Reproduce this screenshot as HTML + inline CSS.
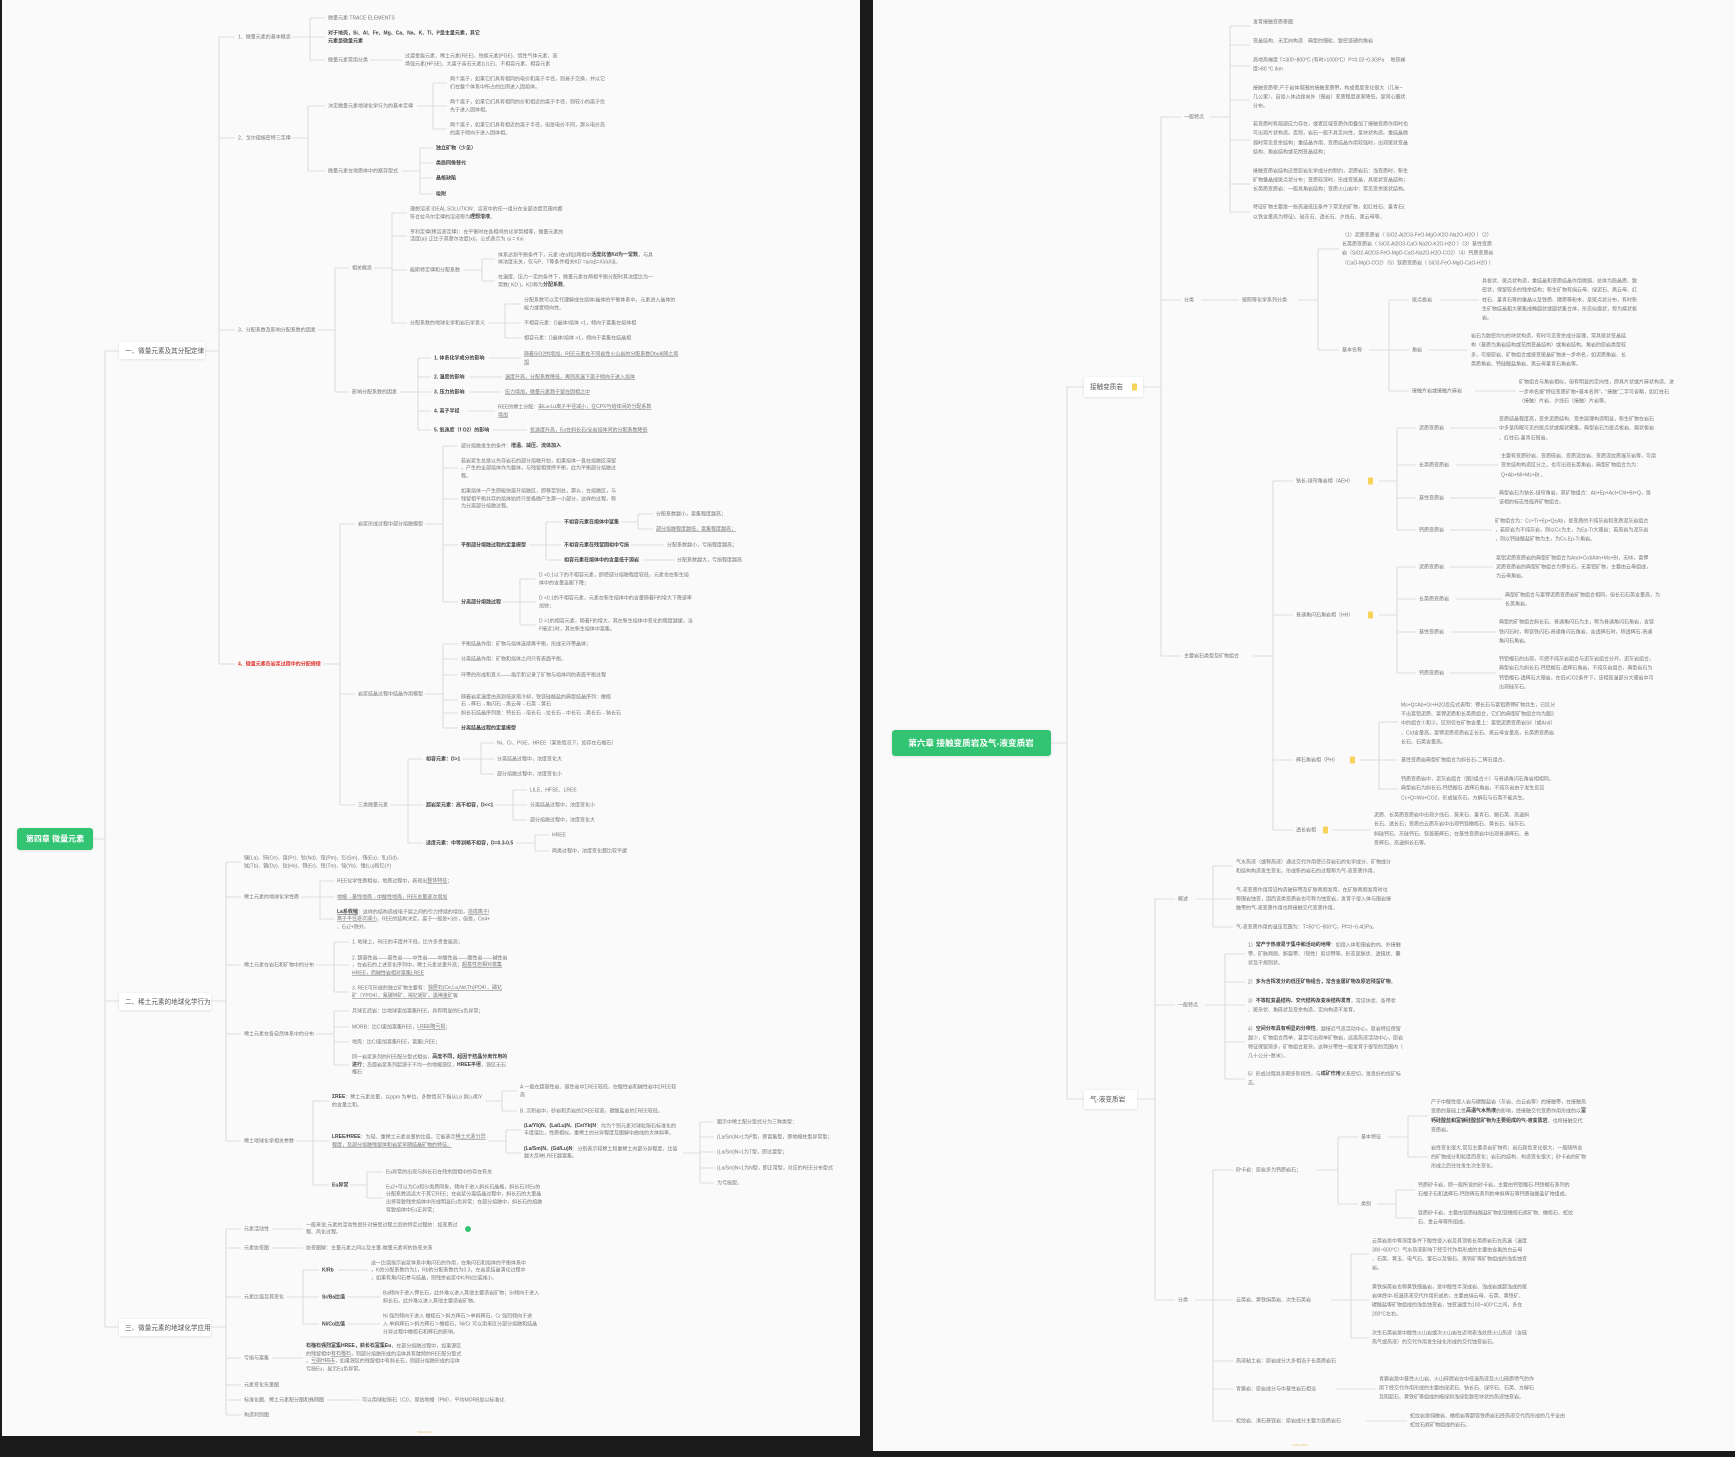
<!DOCTYPE html>
<html><head><meta charset="utf-8">
<style>
html,body{margin:0;padding:0;background:#1b1b1b;}
svg{display:block;}
text{font-family:"Liberation Sans","Noto Sans CJK SC",sans-serif;font-size:5px;fill:#777;dominant-baseline:middle;}
.b{font-weight:bold;fill:#444;}
.r{fill:#e0302a;font-weight:bold;}
.u{text-decoration:underline;}
.l1{font-size:6.6px;fill:#555;}
.rt{font-size:8px;fill:#fff;font-weight:bold;}
path{stroke:#d4d4d4;stroke-width:0.8;fill:none;}
</style></head><body>
<svg width="1735" height="1457" viewBox="0 0 1735 1457" xmlns="http://www.w3.org/2000/svg">
<defs><filter id="sh" x="-20%" y="-40%" width="140%" height="180%"><feDropShadow dx="0" dy="0.6" stdDeviation="1.2" flood-color="#000" flood-opacity="0.12"/></filter></defs>
<rect x="0" y="0" width="1735" height="1457" fill="#1b1b1b"/>
<rect x="2" y="0" width="858" height="1436" fill="#fafafa"/>
<rect x="873" y="0" width="862" height="1451" fill="#fafafa"/>

<!-- ================= LEFT PANEL ================= -->
<path d="M93,839 H105 M105,351 V1327 M105,351 H119 M105,1001 H119 M105,1327 H119"/>
<rect x="17" y="828" width="76" height="22" rx="3" fill="#33c472" filter="url(#sh)"/>
<text x="55" y="839.5" class="rt" text-anchor="middle">第四章 微量元素</text>

<rect x="119" y="342" width="86" height="17" rx="2" fill="#fff" filter="url(#sh)"/>
<text x="125" y="351" class="l1">一、微量元素及其分配定律</text>
<rect x="119" y="993" width="92" height="17" rx="2" fill="#fff" filter="url(#sh)"/>
<text x="125" y="1002" class="l1">二、稀土元素的地球化学行为</text>
<rect x="119" y="1319" width="92" height="17" rx="2" fill="#fff" filter="url(#sh)"/>
<text x="125" y="1328" class="l1">三、微量元素的地球化学应用</text>

<!-- 一 -->
<path d="M205,351 H219 M219,37 V664 M219,37 H235 M219,138 H235 M219,330 H235 M219,664 H235"/>
<text x="238" y="37">1、微量元素的基本概念</text>
<text x="238" y="138">2、戈尔德施密特三定律</text>
<text x="238" y="330">3、分配系数及影响分配系数的因素</text>
<text x="238" y="664" class="r">4、微量元素在岩浆过程中的分配规律</text>

<path d="M292,37 H310 M310,18 V60 M310,18 H325 M310,37 H325 M310,60 H325 M370,60 H402"/>
<text x="328" y="18">微量元素 TRACE ELEMENTS</text>
<text x="328" y="33" class="b">对于地壳，Si、Al、Fe、Mg、Ca、Na、K、Ti、P是主量元素，其它</text>
<text x="328" y="41" class="b">元素是微量元素</text>
<text x="328" y="60">微量元素常用分类</text>
<text x="405" y="56">过渡金属元素、稀土元素(REE)、铂族元素(PGE)、惰性气体元素、高</text>
<text x="405" y="64">场强元素(HFSE)、大离子亲石元素(LILE)、不相容元素、相容元素</text>

<path d="M292,138 H308 M308,106 V171 M308,106 H325 M308,171 H325"/>
<text x="328" y="106">决定微量元素地球化学行为的基本定律</text>
<text x="328" y="171">微量元素在地质体中的赋存型式</text>
<path d="M417,106 H433 M433,83 V129 M433,83 H447 M433,106 H447 M433,129 H447"/>
<text x="450" y="79">两个离子，如果它们具有相同的电价和离子半径，则易于交换，并以它</text>
<text x="450" y="87">们在整个体系中所占的比例进入固熔体。</text>
<text x="450" y="102">两个离子，如果它们具有相同的价和相近的离子半径，则较小的离子优</text>
<text x="450" y="110">先于进入固体相。</text>
<text x="450" y="125">两个离子，如果它们具有相近的离子半径，但是电价不同，那么电价高</text>
<text x="450" y="133">的离子倾向于进入固体相。</text>
<path d="M402,171 H420 M420,148 V194 M420,148 H433 M420,163 H433 M420,178 H433 M420,194 H433"/>
<text x="436" y="148" class="b">独立矿物（少见）</text>
<text x="436" y="163" class="b">类质同像替代</text>
<text x="436" y="178" class="b">晶格缺陷</text>
<text x="436" y="194" class="b">吸附</text>

<path d="M318,330 H335 M335,268 V392 M335,268 H349 M335,392 H349"/>
<text x="352" y="268">相关概念</text>
<text x="352" y="392">影响分配系数的因素</text>
<path d="M374,268 H392 M392,213 V323 M392,213 H407 M392,236 H407 M392,270 H407 M392,323 H407"/>
<text x="410" y="209">理想溶液 IDEAL SOLUTION：溶液中的任一组分在全部浓度范围内都</text>
<text x="410" y="217">符合拉乌尔定律的溶液称为<tspan class="b">理想溶液</tspan>。</text>
<text x="410" y="232">亨利定律(稀溶液定律)：在平衡时在各相间的化学势相等，微量元素的</text>
<text x="410" y="239">活度(ai) 正比于其摩尔浓度(xi)，公式表示为 ai = Kxi</text>
<text x="410" y="270">能斯特定律和分配系数</text>
<text x="410" y="323">分配系数的地球化学和岩石学意义</text>
<path d="M464,270 H482 M482,259 V281 M482,259 H495 M482,281 H495"/>
<text x="498" y="255">体系达到平衡条件下，元素 i在α和β两相中<tspan class="b">活度比值Kd为一常数</tspan>，与具</text>
<text x="498" y="262">体浓度无关，仅与P、T等条件相关KD =ai/aβ=Xi/aXiβ。</text>
<text x="498" y="277">在温度、压力一定的条件下，微量元素在两相平衡分配时其浓度比为一</text>
<text x="498" y="285">常数( KD )，KD称为<tspan class="b">分配系数</tspan>。</text>
<path d="M488,323 H505 M505,304 V338 M505,304 H521 M505,323 H521 M505,338 H521"/>
<text x="524" y="300">分配系数可以定代理解成在熔体/晶体的平衡体系中，元素进入晶体的</text>
<text x="524" y="308">能力或者倾向性。</text>
<text x="524" y="323">不相容元素：D晶体/熔体 &lt;1，倾向于富集在熔体相</text>
<text x="524" y="338">相容元素：D晶体/熔体 &gt;1，倾向于富集在结晶相</text>
<path d="M400,392 H418 M418,358 V430 M418,358 H431 M418,377 H431 M418,392 H431 M418,411 H431 M418,430 H431"/>
<text x="434" y="358" class="b">1. 体系化学成分的影响</text>
<text x="434" y="377" class="b">2. 温度的影响</text>
<text x="434" y="392" class="b">3. 压力的影响</text>
<text x="434" y="411" class="b">4. 离子半径</text>
<text x="434" y="430" class="b">5. 氧逸度（f O2）的影响</text>
<path d="M489,358 H521 M469,377 H502 M469,392 H502 M468,411 H495 M493,430 H527"/>
<text x="524" y="354" class="u">随着SiO2的增加，REE元素在不同岩性火山岩的分配系数Dbulk随之增</text>
<text x="524" y="362" class="u">加</text>
<text x="505" y="377" class="u">温度升高，分配系数降低，再则高温下离子倾向于进入熔体</text>
<text x="505" y="392" class="u">压力增加，微量元素趋于留在固相之中</text>
<text x="498" y="407">REE的稀土分配：<tspan class="u">由La-Lu离子半径减小，在CPX与熔体间的分配系数</tspan></text>
<text x="498" y="415" class="u">增加</text>
<text x="530" y="430" class="u">氧逸度升高，Eu在斜长石/全岩熔体间的分配系数降低</text>

<!-- 4 -->
<path d="M323,664 H340 M340,524 V805 M340,524 H355 M340,694 H355 M340,805 H355"/>
<text x="358" y="524">岩浆形成过程中部分熔融模型</text>
<text x="358" y="694">岩浆结晶过程中结晶作用模型</text>
<text x="358" y="805">三类微量元素</text>
<path d="M425,524 H443 M443,446 V602 M443,446 H458 M443,468 H458 M443,499 H458 M443,545 H458 M443,602 H458"/>
<text x="461" y="446">部分熔融发生的条件：<tspan class="b">增温、减压、流体加入</tspan></text>
<text x="461" y="461">若岩浆生总是以先存岩石的部分熔融开始，如果熔体一直在熔融区滞留</text>
<text x="461" y="468">，产生的全部熔体作为整体，与残留相保持平衡，此为平衡部分熔融过</text>
<text x="461" y="476">程。</text>
<text x="461" y="491">如果熔体一产生即能快离开熔融区，即移至别处，那么，在熔融区，与</text>
<text x="461" y="499">残留相平衡共存的熔体始终只是极微产生那一小部分，这样的过程，称</text>
<text x="461" y="506">为分离部分熔融过程。</text>
<text x="461" y="545" class="b">平衡部分熔融过程的定量模型</text>
<text x="461" y="602" class="b">分离部分熔融过程</text>
<path d="M529,545 H546 M546,522 V560 M546,522 H561 M546,545 H561 M546,560 H561"/>
<text x="564" y="522" class="b">不相容元素在熔体中富集</text>
<text x="564" y="545" class="b">不相容元素在残留固相中亏损</text>
<text x="564" y="560" class="b">相容元素在熔体中的含量低于源岩</text>
<path d="M621,522 H638 M638,514 V529 M638,514 H653 M638,529 H653 M631,545 H664 M642,560 H674"/>
<text x="656" y="514">分配系数越小，富集程度越高；</text>
<text x="656" y="529" class="u">部分熔融程度越低，富集程度越高；</text>
<text x="667" y="545">分配系数越小，亏损程度越高；</text>
<text x="677" y="560">分配系数越大，亏损程度越高</text>
<path d="M503,602 H520 M520,579 V625 M520,579 H536 M520,602 H536 M520,625 H536"/>
<text x="539" y="575">D &lt;0.1以下的不相容元素，即使部分熔融程度较低，元素也在新生熔</text>
<text x="539" y="583">体中的含量急剧下降；</text>
<text x="539" y="598">D &lt;0.1的不相容元素，元素在新生熔体中的含量随着F的增大下降速率</text>
<text x="539" y="606">加快；</text>
<text x="539" y="621">D &gt;1的相容元素，随着F的增大，其在新生熔体中变化的程度越缓，当</text>
<text x="539" y="629">F接近1时，其在新生熔体中富集。</text>
<path d="M425,694 H443 M443,644 V728 M443,644 H458 M443,659 H458 M443,675 H458 M443,700 H458 M443,713 H458 M443,728 H458"/>
<text x="461" y="644">平衡结晶作用：矿物与熔体连续再平衡，形成无环带晶体；</text>
<text x="461" y="659">分离结晶作用：矿物和熔体之间只有表面平衡。</text>
<text x="461" y="675">环带的形成和意义——指示和记录了矿物与熔体间的表面平衡过程</text>
<text x="461" y="697">随着岩浆温度由高到低逐渐冷却，铁镁硅酸盐的典型结晶序列：橄榄</text>
<text x="461" y="704">石→辉石→角闪石→黑云母→石英→黄石</text>
<text x="461" y="713">斜长石结晶序列是：钙长石→倍长石→拉长石→中长石→奥长石→钠长石</text>
<text x="461" y="728" class="b">分离结晶过程的定量模型</text>
<path d="M390,805 H408 M408,759 V843 M408,759 H423 M408,805 H423 M408,843 H423"/>
<text x="426" y="759" class="b">相容元素：D&gt;1</text>
<text x="426" y="805" class="b">超岩浆元素：高不相容，D&lt;&lt;1</text>
<text x="426" y="843" class="b">适度元素：中等到略不相容，D=0.3-0.5</text>
<path d="M462,759 H481 M481,743 V774 M481,743 H494 M481,759 H494 M481,774 H494"/>
<text x="497" y="743">Ni、Cr、PGE、HREE（某些情况下，如存在石榴石）</text>
<text x="497" y="759">分离结晶过程中，浓度变化大</text>
<text x="497" y="774">部分熔融过程中，浓度变化小</text>
<path d="M495,805 H513 M513,790 V820 M513,790 H527 M513,805 H527 M513,820 H527"/>
<text x="530" y="790">LILE、HFSE、LREE</text>
<text x="530" y="805">分离结晶过程中，浓度变化小</text>
<text x="530" y="820">部分熔融过程中，浓度变化大</text>
<path d="M516,843 H535 M535,835 V851 M535,835 H549 M535,851 H549"/>
<text x="552" y="835">HREE</text>
<text x="552" y="851">两类过程中，浓度变化都比较平缓</text>

<!-- 二 -->
<path d="M211,1001 H226 M226,862 V1141 M226,862 H241 M226,897 H241 M226,965 H241 M226,1034 H241 M226,1141 H241"/>
<text x="244" y="858">镧(La)、铈(Ce)、镨(Pr)、钕(Nd)、钷(Pm)、钐(Sm)、铕(Eu)、钆(Gd)、</text>
<text x="244" y="866">铽(Tb)、镝(Dy)、钬(Ho)、铒(Er)、铥(Tm)、镱(Yb)、镥(Lu)和钇(Y)</text>
<text x="244" y="897">稀土元素的地球化学性质</text>
<text x="244" y="965">稀土元素在岩石和矿物中的分布</text>
<text x="244" y="1034">稀土元素在各自然体系中的分布</text>
<text x="244" y="1141">稀土地球化学相关参数</text>
<path d="M301,897 H320 M320,881 V919 M320,881 H334 M320,897 H334 M320,919 H334"/>
<text x="337" y="881">REE化学性质相似，地质过程中，表现出<tspan class="u">整体特征</tspan>；</text>
<text x="337" y="897" class="u">地幔→基性地壳→中酸性地壳，REE总量逐次增加</text>
<text x="337" y="912"><tspan class="b u">La系收缩</tspan>：这样的结构造成电子层之间的引力持续的增加，<tspan class="u">造成离子/</tspan></text>
<text x="337" y="919"><tspan class="u">离子半径逐次减小</tspan>。REE的结构决定，离子一般是+3价，但是，Ce4+</text>
<text x="337" y="927">、Eu2+除外。</text>
<path d="M316,965 H334 M334,942 V992 M334,942 H349 M334,965 H349 M334,992 H349"/>
<text x="352" y="942">1. 地球上，REE的丰度并不低，比许多贵金属高；</text>
<text x="352" y="958">2. 超基性岩——基性岩——中性岩——中酸性岩——酸性岩——碱性岩</text>
<text x="352" y="965">，在岩石的上述变化序列中，稀土元素总量升高；<tspan class="u">超基性岩相对富集</tspan></text>
<text x="352" y="973" class="u">HREE，而碱性岩相对富集LREE</text>
<text x="352" y="988">3. REE可形成的独立矿物主要有：<tspan class="u">独居石(Ce,La,Nd,Th)PO4）、磷钇</tspan></text>
<text x="352" y="996"><tspan class="u">矿（YPO4）、氟碳铈矿、褐钇铌矿、黑稀金矿</tspan>等</text>
<path d="M316,1034 H334 M334,1011 V1065 M334,1011 H349 M334,1027 H349 M334,1042 H349 M334,1065 H349"/>
<text x="352" y="1011">月球玄武岩：比地球更加富集REE，具有明显的Eu负异常；</text>
<text x="352" y="1027">MORB：比CI更加富集REE，<tspan class="u">LREE略亏损</tspan>；</text>
<text x="352" y="1042">地壳：比CI更加富集REE，富集LREE；</text>
<text x="352" y="1057">同一岩浆系列的REE配分型式相似，<tspan class="b">高度不同，起因于结晶分离作用的</tspan></text>
<text x="352" y="1065"><tspan class="b">进行</tspan>；岛弧岩浆系列起源于不均一的地幔源区，<tspan class="b">HREE平坦</tspan>，源区无石</text>
<text x="352" y="1072">榴石</text>
<path d="M296,1141 H313 M313,1101 V1185 M313,1101 H329 M313,1141 H329 M313,1185 H329"/>
<text x="332" y="1097"><tspan class="b">ΣREE</tspan>：稀土元素总量，以ppm 为单位，多数情况下指从La 到Lu和Y</text>
<text x="332" y="1105">的含量之和。</text>
<text x="332" y="1137"><tspan class="b">LREE/HREE</tspan>：为轻、重稀土元素总量的比值，它能表示<tspan class="u">稀土元素分异</tspan></text>
<text x="332" y="1145" class="u">程度，及部分熔融残留体和岩浆早期结晶矿物的特征。</text>
<text x="332" y="1185" class="b">Eu异常</text>
<path d="M485,1101 H502 M502,1091 V1111 M502,1091 H517 M502,1111 H517"/>
<text x="520" y="1087">A 一般在超基性岩、基性岩中ΣREE较低，在酸性岩和碱性岩中ΣREE较</text>
<text x="520" y="1095">高</text>
<text x="520" y="1111">B. 沉积岩中，砂岩和页岩的ΣREE较高，碳酸盐岩的ΣREE较低。</text>
<path d="M488,1141 H506 M506,1130 V1153 M506,1130 H521 M506,1153 H521"/>
<text x="524" y="1126"><tspan class="b">(La/Yb)N、(La/Lu)N、(Ce/Yb)N</tspan>：均为个别元素对球粒陨石标准化的</text>
<text x="524" y="1133">丰度值比，性质相似，重稀土的分异程度及图解中曲线的大体斜率。</text>
<text x="524" y="1149"><tspan class="b">(La/Sm)N、(Gd/Lu)N</tspan>：分别表示轻稀土和重稀土内部分异程度，比值</text>
<text x="524" y="1156">越大反映LREE越富集。</text>
<path d="M683,1153 H700 M700,1122 V1183 M700,1122 H714 M700,1137 H714 M700,1152 H714 M700,1168 H714 M700,1183 H714"/>
<text x="717" y="1122">图示中稀土配分型式分为三种类型：</text>
<text x="717" y="1137">(La/Sm)N&gt;1为P型，即富集型，即地幔柱型异常型；</text>
<text x="717" y="1152">(La/Sm)N≈1为T型，即过渡型；</text>
<text x="717" y="1168">(La/Sm)N&lt;1为N型，即正常型，对应的REE分布型式</text>
<text x="717" y="1183">为亏损型。</text>
<path d="M350,1185 H367 M367,1172 V1198 M367,1172 H383 M367,1198 H383"/>
<text x="386" y="1172">Eu异常的出现与斜长石在残余固相中的存在有关</text>
<text x="386" y="1187">Eu2+可以为Ca和Sr类质同象，倾向于进入斜长石晶格，斜长石对Eu的</text>
<text x="386" y="1194">分配系数远远大于其它REE；在岩浆分离结晶过程中，斜长石的大量晶</text>
<text x="386" y="1202">出将导致残余熔体中形成明显Eu负异常；在部分熔融中，斜长石的熔融</text>
<text x="386" y="1210">导致熔体中Eu正异常；</text>

<!-- 三 -->
<path d="M211,1327 H226 M226,1229 V1415 M226,1229 H241 M226,1248 H241 M226,1297 H241 M226,1358 H241 M226,1385 H241 M226,1400 H241 M226,1415 H241"/>
<text x="244" y="1229">元素活动性</text>
<text x="244" y="1248">元素协变图</text>
<text x="244" y="1297">元素比值及其变化</text>
<text x="244" y="1358">亏损与富集</text>
<text x="244" y="1385">元素变化矢量图</text>
<text x="244" y="1400">标准化图、稀土元素配分图和蛛网图</text>
<text x="244" y="1415">构造判别图</text>
<path d="M272,1229 H303 M272,1248 H303 M272,1358 H303 M327,1400 H359"/>
<text x="306" y="1225">一般来说,元素的活动性是针对接受过程之后的特定过程的：如变质过</text>
<text x="306" y="1232">程、风化过程。</text>
<circle cx="468" cy="1229" r="3" fill="#33c472"/>
<text x="306" y="1248">协变图解：主量元素之间以及主量-微量元素间的协变关系</text>
<path d="M287,1297 H303 M303,1270 V1324 M303,1270 H319 M303,1297 H319 M303,1324 H319"/>
<text x="322" y="1270" class="b">K/Rb</text>
<text x="322" y="1297" class="b">Sr/Ba比值</text>
<text x="322" y="1324" class="b">Ni/Co比值</text>
<path d="M338,1270 H368 M348,1297 H380 M348,1324 H380"/>
<text x="371" y="1263">这一比值指示岩浆体系中角闪石的作用，在角闪石和熔体的平衡体系中</text>
<text x="371" y="1270">，K的分配系数约为1，Rb的分配系数约为0.3，在岩浆结晶演化过程中</text>
<text x="371" y="1278">，如果有角闪石参与结晶，则残余岩浆中K/Rb比值减小。</text>
<text x="383" y="1293">Ba倾向于进入钾长石，此外难以进入其他主要造岩矿物；Sr倾向于进入</text>
<text x="383" y="1301">斜长石，此外难以进入其他主要造岩矿物。</text>
<text x="383" y="1316">Ni 强烈倾向于进入 橄榄石＞斜方辉石＞单斜辉石，Cr 强烈倾向于进</text>
<text x="383" y="1324">入 单斜辉石＞斜方辉石＞橄榄石，Ni/Cr 可以用来区分部分熔融和结晶</text>
<text x="383" y="1332">分异过程中橄榄石和辉石的影响。</text>
<text x="306" y="1346"><tspan class="b">石榴石强烈富集HREE，斜长石富集Eu</tspan>，在部分熔融过程中，如果源区</text>
<text x="306" y="1354">的残留相中<tspan class="u">有石榴石</tspan>，则部分熔融形成的溶体具有陡倾的REE配分型式</text>
<text x="306" y="1361">，<tspan class="u">亏损HREE</tspan>，如果源区的残留相中有斜长石，则部分熔融形成的溶体</text>
<text x="306" y="1369">亏损Eu，显示Eu负异常。</text>
<text x="362" y="1400">可以用球粒陨石（CI）、原始地幔（PM）、平均MORB加以标准化</text>
<text x="425" y="1432" style="font-size:3px;fill:#e3c46a" text-anchor="middle">XMind ZEN</text>

<!-- ================= RIGHT PANEL ================= -->
<path d="M1051,743 H1067 M1067,387 V1099 M1067,387 H1084 M1067,1099 H1084"/>
<rect x="892" y="730" width="159" height="26" rx="3" fill="#33c472" filter="url(#sh)"/>
<text x="971" y="743.5" class="rt" text-anchor="middle" style="font-size:8.6px">第六章 接触变质岩及气-液变质岩</text>
<rect x="1084" y="377" width="59" height="20" rx="2" fill="#fff" filter="url(#sh)"/>
<text x="1090" y="387" class="l1">接触变质岩</text>
<rect x="1132" y="383.5" width="5" height="7" rx="1" fill="#f7d35a"/>
<rect x="1084" y="1090" width="53" height="19" rx="2" fill="#fff" filter="url(#sh)"/>
<text x="1090" y="1099.5" class="l1">气-液变质岩</text>

<!-- 接触变质岩 -->
<path d="M1143,387 H1161 M1161,117 V656 M1161,117 H1181 M1161,300 H1181 M1161,656 H1181"/>
<text x="1184" y="117">一般特点</text>
<text x="1184" y="300">分类</text>
<text x="1184" y="656">主要岩石类型及矿物组合</text>
<path d="M1210,117 H1230 M1230,26 V212 M1230,26 H1250 M1230,45 H1250 M1230,66 H1250 M1230,100 H1250 M1230,140 H1250 M1230,184 H1250 M1230,212 H1250"/>
<text x="1253" y="22">发育接触变质晕圈</text>
<text x="1253" y="41">变晶结构、无定向构造　典型的细粒、致密坚硬的角岩</text>
<text x="1253" y="60">高地热梯度 T=300~800°C (有时&gt;1000°C）P=0.02~0.3GPa　 地热梯</text>
<text x="1253" y="69">度&gt;80 °C /km</text>
<text x="1253" y="88">接触变质晕:产于岩体周围的接触变质带，构成宽度变化很大（几米~</text>
<text x="1253" y="97">几公里），自侵入体边缘向外（围岩）变质程度逐渐降低，呈同心圈状</text>
<text x="1253" y="106">分布。</text>
<text x="1253" y="124">若变质时有局部应力存在，或者区域变质作用叠加了接触变质作用时也</text>
<text x="1253" y="133">可出现片状构造。否则，岩石一般不具定向性，呈块状构造。重结晶微</text>
<text x="1253" y="143">弱时常见变余结构；重结晶作用、变质结晶作用较强时，出现斑状变晶</text>
<text x="1253" y="152">结构、角岩结构或花岗变晶结构；</text>
<text x="1253" y="171">接触变质岩结构还受原岩化学成分的制约，泥质岩石：浅变质时，新生</text>
<text x="1253" y="180">矿物雏晶成斑点状分布；变质较深时，形成变斑晶，具斑状变晶结构；</text>
<text x="1253" y="189">长英质变质岩：一般具角岩结构；变质火山岩中：常见变余斑状结构。</text>
<text x="1253" y="207">特征矿物主要是一些高温低压条件下常见的矿物，如红柱石、堇青石(</text>
<text x="1253" y="217">以铁含量高为特征)、硅灰石、透长石、夕线石、黑云母等。</text>

<path d="M1201,300 H1239 M1298,300 H1318 M1318,249 V350 M1318,249 H1339 M1318,350 H1339"/>
<text x="1242" y="300">按照等化学系列分类</text>
<text x="1342" y="235">（1）泥质变质岩（ SiO2-Al2O3-FeO-MgO-K2O-Na2O-H2O ）（2）</text>
<text x="1342" y="244">长英质变质岩（ SiO2-Al2O3-CaO-Na2O-K2O-H2O ）（3）基性变质</text>
<text x="1342" y="253">岩（SiO2-Al2O3-FeO-MgO-CaO-Na2O-H2O-CO2）（4）钙质变质岩</text>
<text x="1342" y="263">（CaO-MgO-CO2）（5）镁质变质岩（ SiO2-FeO-MgO-CaO-H2O ）</text>
<text x="1342" y="350">基本名称</text>
<path d="M1369,350 H1389 M1389,300 V391 M1389,300 H1409 M1389,350 H1409 M1389,391 H1409"/>
<text x="1412" y="300">斑点板岩</text>
<text x="1412" y="350">角岩</text>
<text x="1412" y="391">接触片岩或接触片麻岩</text>
<path d="M1440,300 H1479 M1428,350 H1468 M1475,391 H1516"/>
<text x="1482" y="281">具板状、斑点状构造，重结晶和变质结晶作用微弱，总体为隐晶质、致</text>
<text x="1482" y="290">密状，保留较多的残余结构；新生矿物有绢云母、绿泥石、黑云母、红</text>
<text x="1482" y="300">柱石、堇青石等的雏晶以及铁质、碳质等粉末，呈斑点状分布，有时新</text>
<text x="1482" y="309">生矿物结晶粗大聚集成椭圆状或圆状集合体，形态似瘤状，称为瘤状板</text>
<text x="1482" y="318">岩。</text>
<text x="1471" y="336">岩石为致密均匀的块状构造，有时可见变余成分层理，常具斑状变晶结</text>
<text x="1471" y="345">构（基质为角岩结构或花岗变晶结构）或角岩结构。角岩的原岩类型较</text>
<text x="1471" y="355">多，可按原岩、矿物组合或按变斑晶矿物进一步命名，如泥质角岩、长</text>
<text x="1471" y="364">英质角岩、钙硅酸盐角岩、黑云母堇青石角岩等。</text>
<text x="1519" y="382">矿物组合与角岩相似，但有明显的定向性，即具片状或片麻状构造。进</text>
<text x="1519" y="392">一步命名按"特征变质矿物+基本名称"，"接触"二字可省略，如红柱石</text>
<text x="1519" y="401">（接触）片岩、夕线石（接触）片岩等。</text>

<path d="M1253,656 H1273 M1273,481 V830 M1273,481 H1293 M1273,615 H1293 M1273,760 H1293 M1273,830 H1293"/>
<text x="1296" y="481">钠长-绿帘角岩相（AEH）</text>
<rect x="1368" y="477.5" width="5" height="7" rx="1" fill="#f7d35a"/>
<text x="1296" y="615">普通角闪石角岩相（HH）</text>
<rect x="1368" y="611.5" width="5" height="7" rx="1" fill="#f7d35a"/>
<text x="1296" y="760">辉石角岩相（PH）</text>
<rect x="1350" y="756.5" width="5" height="7" rx="1" fill="#f7d35a"/>
<text x="1296" y="830">透长岩相</text>
<rect x="1323" y="826.5" width="5" height="7" rx="1" fill="#f7d35a"/>

<path d="M1379,481 H1397 M1397,428 V530 M1397,428 H1416 M1397,465 H1416 M1397,498 H1416 M1397,530 H1416"/>
<text x="1419" y="428">泥质变质岩</text>
<text x="1419" y="465">长英质变质岩</text>
<text x="1419" y="498">基性变质岩</text>
<text x="1419" y="530">钙质变质岩</text>
<path d="M1450,428 H1496 M1456,465 H1498 M1450,498 H1496 M1450,530 H1492"/>
<text x="1499" y="419">变质结晶程度高，变余泥质结构、变余层理构造明显，新生矿物在岩石</text>
<text x="1499" y="428">中多呈肉眼可见的斑点状或瘤状聚集，典型岩石为斑点板岩、瘤状板岩</text>
<text x="1499" y="438">、红柱石-堇青石斑岩。</text>
<text x="1501" y="456">主要有变质砂岩、变质砾岩、变质流纹岩、变质流纹质凝灰岩等，可用</text>
<text x="1501" y="465">变余结构构造区分之，也可出现长英角岩，典型矿物组合为为：</text>
<text x="1501" y="475">Q+Ab+Mi+Ms+Bt 。</text>
<text x="1499" y="493">典型岩石为钠长-绿帘角岩，其矿物组合：Ab+Ep+Act+Chl+Bt+Q，是</text>
<text x="1499" y="502">该相的标志性临界矿物组合。</text>
<text x="1495" y="521">矿物组合为：Cc+Tr+Ep+Q±Ab，是变质的不纯灰岩和变质泥灰岩组合</text>
<text x="1495" y="530">，若原岩为不纯灰岩，则以Cc为主，为Ep-Tr大理岩；若原岩为泥灰岩</text>
<text x="1495" y="539">，则以钙硅酸盐矿物为主，为Cc-Ep-Tr角岩。</text>

<path d="M1379,615 H1397 M1397,567 V673 M1397,567 H1416 M1397,599 H1416 M1397,632 H1416 M1397,673 H1416"/>
<text x="1419" y="567">泥质变质岩</text>
<text x="1419" y="599">长英质变质岩</text>
<text x="1419" y="632">基性变质岩</text>
<text x="1419" y="673">钙质变质岩</text>
<path d="M1450,567 H1493 M1456,599 H1502 M1450,632 H1496 M1450,673 H1496"/>
<text x="1496" y="558">富铝泥质变质岩的典型矿物组合为And+Crd/Alm+Ms+Bt，无Mi，富钾</text>
<text x="1496" y="567">泥质变质岩的典型矿物组合为钾长石，无富铝矿物，主要由云母组成，</text>
<text x="1496" y="576">为云母角岩。</text>
<text x="1505" y="595">典型矿物组合与富钾泥质变质岩矿物组合相同，但长石石英含量高，为</text>
<text x="1505" y="604">长英角岩。</text>
<text x="1499" y="622">典型的矿物组合斜长石、普通角闪石为主，称为普通角闪石角岩，含镁</text>
<text x="1499" y="632">铁闪石时，称镁铁闪石-普通角闪石角岩，含透辉石时，称透辉石-普通</text>
<text x="1499" y="641">角闪石角岩。</text>
<text x="1499" y="659">钙铝榴石的出现，可把不纯灰岩组合与泥灰岩组合分开。泥灰岩组合，</text>
<text x="1499" y="668">典型岩石为斜长石-钙铝榴石-透辉石角岩，不纯灰岩组合，典型岩石为</text>
<text x="1499" y="678">钙铝榴石-透辉石大理岩。在低xCO2条件下，该相高温部分大理岩中可</text>
<text x="1499" y="687">出现硅灰石。</text>

<path d="M1360,760 H1379 M1379,722 V789 M1379,722 H1398 M1379,760 H1398 M1379,789 H1398"/>
<text x="1401" y="705">Ms+Q=Ab+Or+H2O反应式表明：钾长石与富铝质钾矿物共生，已区分</text>
<text x="1401" y="714">不出富铝泥质、富钾泥质和长英质组合，它们的典型矿物组合均为图3</text>
<text x="1401" y="723">中的组合①和②。区别仅在矿物含量上：富铝泥质变质岩Sil（或And）</text>
<text x="1401" y="733">、Crd含量高，富钾泥质变质岩正长石、黑云母含量高，长英质变质岩</text>
<text x="1401" y="742">长石、石英含量高。</text>
<text x="1401" y="760">基性变质岩典型矿物组合为斜长石-二辉石组合。</text>
<text x="1401" y="779">钙质变质岩中，泥灰岩组合（图3组合④）与普通角闪石角岩相相同。</text>
<text x="1401" y="788">典型岩石为斜长石-钙铝榴石-透辉石角岩，不纯灰岩由于发生反应</text>
<text x="1401" y="798">Cc+Q=Wo+CO2，形成硅灰石，方解石与石英不能共生。</text>
<path d="M1332,830 H1371"/>
<text x="1374" y="815">泥质、长英质变质岩中出现夕线石、莫来石、堇青石、鳞石英、高温斜</text>
<text x="1374" y="824">长石、透长石；变质白云质灰岩中出现钙镁橄榄石、黄长石、硅灰石、</text>
<text x="1374" y="834">斜硅钙石、灰硅钙石、镁蔷薇辉石；在基性变质岩中出现普通辉石、易</text>
<text x="1374" y="843">变辉石、高温斜长石等。</text>

<!-- 气-液变质岩 -->
<path d="M1137,1099 H1155 M1155,899 V1300 M1155,899 H1175 M1155,1005 H1175 M1155,1300 H1175"/>
<text x="1178" y="899">概述</text>
<text x="1178" y="1005">一般特点</text>
<text x="1178" y="1300">分类</text>
<path d="M1196,899 H1213 M1213,866 V927 M1213,866 H1233 M1213,899 H1233 M1213,927 H1233"/>
<text x="1236" y="862">气水热液（或称热液）通过交代作用使已存岩石的化学成分、矿物成分</text>
<text x="1236" y="871">和结构构造发生变化，形成新的岩石的过程称为气-液变质作用。</text>
<text x="1236" y="890">气-液变质作用常沿构造破碎带及矿脉两侧发育，在矿脉两侧发育时也</text>
<text x="1236" y="899">称围岩蚀变，因而该类变质岩也可称为蚀变岩，发育于侵入体与围岩接</text>
<text x="1236" y="908">触带的气-液变质作用也称接触交代变质作用。</text>
<text x="1236" y="927">气-液变质作用的温压范围为：T=50°C~800°C，Pf=0~0.4GPa。</text>
<path d="M1205,1005 H1225 M1225,954 V1079 M1225,954 H1245 M1225,982 H1245 M1225,1005 H1245 M1225,1042 H1245 M1225,1079 H1245"/>
<text x="1248" y="945">1）<tspan class="b">常产于热液易于集中和活动的地带</tspan>：如侵入体和围岩的内、外接触</text>
<text x="1248" y="954">带、矿脉两侧、断裂带、（韧性）剪切带等，形态呈脉状、透镜状、囊</text>
<text x="1248" y="963">状及不规则状。</text>
<text x="1248" y="982">2）<tspan class="b">多为含挥发分的低压矿物组合，常含金属矿物及原岩残留矿物</tspan>。</text>
<text x="1248" y="1001">3）<tspan class="b">不等粒变晶结构、交代结构及变余结构发育</tspan>，常见块状、条带状</text>
<text x="1248" y="1010">、斑杂状、角砾状及变余构造，定向构造不发育。</text>
<text x="1248" y="1029">4）<tspan class="b">空间分布具有明显的分带性</tspan>，越接近气液活动中心，原岩特征保留</text>
<text x="1248" y="1038">越少，矿物组合简单，甚至可出现单矿物岩，远离热液活动中心，原岩</text>
<text x="1248" y="1047">特征保留渐多，矿物组合复杂。这种分带性一般发育于很窄的范围内（</text>
<text x="1248" y="1056">几十公分~数米）。</text>
<text x="1248" y="1074">5）形成过程具多期多阶段性，与<tspan class="b">成矿作用</tspan>关系密切，是良好的找矿标</text>
<text x="1248" y="1083">志。</text>

<path d="M1195,1300 H1213 M1213,1170 V1421 M1213,1170 H1233 M1213,1300 H1233 M1213,1361 H1233 M1213,1389 H1233 M1213,1421 H1233"/>
<text x="1236" y="1170">矽卡岩：原岩多为钙质岩石；</text>
<text x="1236" y="1300">云英岩、黄铁绢英岩、次生石英岩</text>
<text x="1236" y="1361">热液粘土岩：原岩成分大多相当于长英质岩石</text>
<text x="1236" y="1389">青磐岩：原岩成分与中基性岩石相当</text>
<text x="1236" y="1421">蛇纹岩、滑石菱镁岩：原岩成分主要为镁质岩石</text>
<path d="M1316,1170 H1338 M1338,1137 V1204 M1338,1137 H1358 M1338,1204 H1358"/>
<text x="1361" y="1137">基本特征</text>
<text x="1361" y="1204">类别</text>
<path d="M1388,1137 H1408 M1408,1116 V1157 M1408,1116 H1428 M1408,1157 H1428"/>
<text x="1431" y="1102">产于中酸性侵入岩与碳酸盐岩（灰岩、白云岩等）的接触带，在接触热</text>
<text x="1431" y="1111">变质的基础上受<tspan class="b">高温气水热液</tspan>的影响，经接触交代变质作用形成的以<tspan class="b">富</tspan></text>
<text x="1431" y="1121"><tspan class="b">钙硅酸盐和富镁硅酸盐矿物为主要组成的气-液变质岩</tspan>，也称接触交代</text>
<text x="1431" y="1130">变质岩。</text>
<text x="1431" y="1148">岩性变化很大,常见主要造岩矿物有；岩石颜色变化很大，一般随所含</text>
<text x="1431" y="1157">的矿物成分和粒度而变化；岩石的结构、构造变化很大；矽卡岩的矿物</text>
<text x="1431" y="1166">形成之后往往发生次生变化。</text>
<path d="M1377,1204 H1396 M1396,1190 V1218 M1396,1190 H1415 M1396,1218 H1415"/>
<text x="1418" y="1185">钙质矽卡岩，即一般所说的矽卡岩，主要由钙铝榴石-钙铁榴石系列的</text>
<text x="1418" y="1194">石榴子石和透辉石-钙铁辉石系列的单斜辉石等钙质硅酸盐矿物组成。</text>
<text x="1418" y="1213">镁质矽卡岩，主要由镁质硅酸盐矿物如镁橄榄石族矿物、橄榄石、蛇纹</text>
<text x="1418" y="1222">石、金云母等所组成。</text>
<path d="M1331,1300 H1351 M1351,1254 V1338 M1351,1254 H1369 M1351,1300 H1369 M1351,1338 H1369"/>
<text x="1372" y="1241">云英岩是中等深度条件下酸性侵入岩及其顶板长英质岩石在高温（温度</text>
<text x="1372" y="1250">300~600°C）气水热液影响下经交代作用形成的主要由含氟的白云母</text>
<text x="1372" y="1259">、石英、黄玉、电气石、萤石以及锡石、黑钨矿等矿物组成的浅色蚀变</text>
<text x="1372" y="1268">岩。</text>
<text x="1372" y="1287">黄铁绢英岩也称黄铁细晶岩，是中酸性半深成岩、浅成岩或超浅成的斑</text>
<text x="1372" y="1296">岩体经中-低温热液交代作用形成的，主要由绢云母、石英、黄铁矿、</text>
<text x="1372" y="1305">碳酸盐等矿物组成的浅色蚀变岩，蚀变温度为100~400°C之间，多在</text>
<text x="1372" y="1314">200°C左右。</text>
<text x="1372" y="1333">次生石英岩是中酸性火山岩或次火山岩在近地表浅处经火山热液（含硫</text>
<text x="1372" y="1342">热气或热液）的交代作用发生硅化形成的交代蚀变岩石。</text>
<path d="M1336,1389 H1376"/>
<text x="1379" y="1379">青磐岩是中基性火山岩、火山碎屑岩在中低温热液及火山硫质喷气的作</text>
<text x="1379" y="1388">用下经交代作用形成的主要由绿泥石、钠长石、绿帘石、石英、方解石</text>
<text x="1379" y="1397">及阳起石、黄铁矿等组成的暗绿到浅绿色致密块状的热液蚀变岩。</text>
<path d="M1366,1421 H1407"/>
<text x="1410" y="1416">蛇纹岩是纯橄岩、橄榄岩等超镁铁质岩石经热液交代而形成的几乎全由</text>
<text x="1410" y="1425">蛇纹石族矿物组成的岩石。</text>
<text x="1300" y="1445" style="font-size:3px;fill:#e3c46a" text-anchor="middle">XMind ZEN</text>
</svg>
</body></html>
